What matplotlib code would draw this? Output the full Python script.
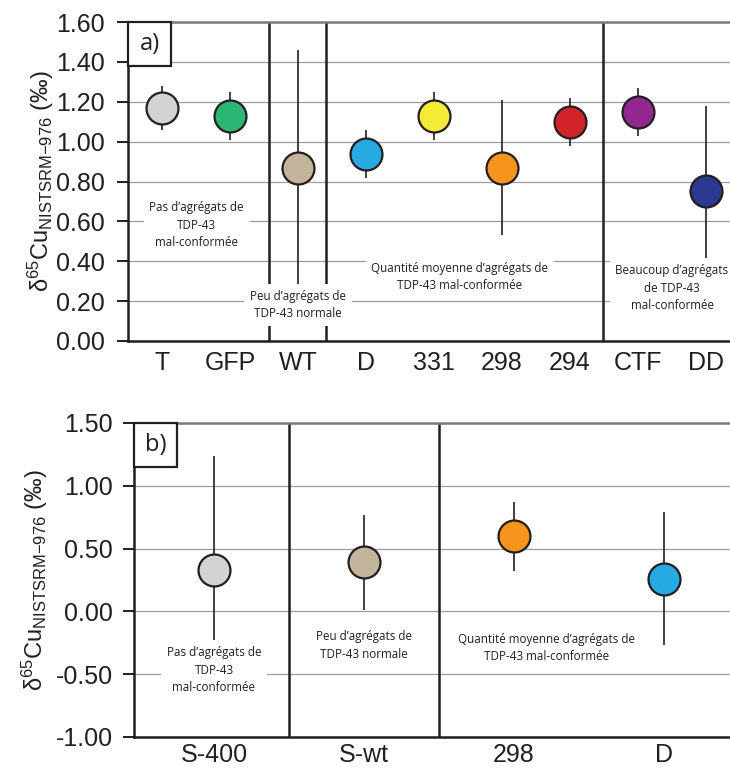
import matplotlib
matplotlib.use("Agg")
import matplotlib.pyplot as plt
from matplotlib.patches import Rectangle

plt.rcParams['font.family'] = ['Liberation Sans', 'DejaVu Sans']
plt.rcParams['mathtext.fontset'] = 'custom'
plt.rcParams['mathtext.rm'] = 'Liberation Sans'
plt.rcParams['mathtext.it'] = 'Liberation Sans:italic'
plt.rcParams['mathtext.bf'] = 'Liberation Sans:bold'

# ---- Panel a data ----
cats_a = ["T", "GFP", "WT", "D", "331", "298", "294", "CTF", "DD"]
vals_a = [1.17, 1.13, 0.87, 0.94, 1.13, 0.87, 1.10, 1.15, 0.75]
errs_a = [0.11, 0.12, 0.59, 0.12, 0.12, 0.34, 0.12, 0.12, 0.43]
cols_a = ["#d1d3d4", "#2bb673", "#c2b59b", "#27aae1", "#f4eb37",
          "#f7941d", "#d2232a", "#92278f", "#2b3990"]
seps_a = [1.57, 2.41, 6.49]
yticks_a = [0.0, 0.2, 0.4, 0.6, 0.8, 1.0, 1.2, 1.4, 1.6]

# ---- Panel b data ----
cats_b = ["S-400", "S-wt", "298", "D"]
vals_b = [0.33, 0.39, 0.60, 0.26]
errs_b = [0.91, 0.38, 0.275, 0.53]
cols_b = ["#d1d3d4", "#c2b59b", "#f7941d", "#27aae1"]
seps_b = [0.5, 1.5]
yticks_b = [-1.0, -0.5, 0.0, 0.5, 1.0, 1.5]

# group annotations: (x, y, text)
notes_a = [
    (0.51, 0.58, "Pas d’agrégats de\nTDP-43\nmal-conformée"),
    (2.0, 0.18, "Peu d’agrégats de\nTDP-43 normale"),
    (4.38, 0.32, "Quantité moyenne d’agrégats de\nTDP-43 mal-conformée"),
    (7.5, 0.265, "Beaucoup d’agrégats\nde TDP-43\nmal-conformée"),
]
notes_b = [
    (0.0, -0.467, "Pas d’agrégats de\nTDP-43\nmal-conformée"),
    (1.0, -0.27, "Peu d’agrégats de\nTDP-43 normale"),
    (2.22, -0.29, "Quantité moyenne d’agrégats de\nTDP-43 mal-conformée"),
]

W, H = 730, 769
fig = plt.figure(figsize=(W / 100, H / 100), dpi=100)

DARK = "#231f20"
ylabel = r'δ$^{65}$Cu$_{\mathrm{NISTSRM{-}976}}$ (‰)'


def make_panel(rect_px, xlim, cats, vals, errs, cols, seps, yticks, ylim,
               notes, tag, fmt, ypad, lpad, xpad):
    l, t, r, b = rect_px
    ax = fig.add_axes([l / W, 1 - b / H, (r - l) / W, (b - t) / H])
    x = list(range(len(cats)))
    ax.set_xlim(*xlim)
    ax.set_ylim(*ylim)
    ax.set_axisbelow(True)
    ax.yaxis.grid(True, color="#9d9d9d", lw=0.9)
    for s in seps:
        ax.axvline(s, color=DARK, lw=1.8, zorder=1)
    ax.errorbar(x, vals, yerr=errs, fmt="none", ecolor=DARK, elinewidth=1.2,
                capsize=0, zorder=2)
    for xi, v, c in zip(x, vals, cols):
        ax.plot(xi, v, "o", ms=23, mfc=c, mec=DARK, mew=1.6, zorder=4)
    for nx, ny, txt in notes:
        ax.text(nx, ny, txt, ha="center", va="center", fontsize=8.4,
                family=["Open Sans", "DejaVu Sans"], color=DARK,
                linespacing=1.45, zorder=3,
                bbox=dict(boxstyle="square,pad=0.5", fc="white", ec="none"))
    ax.set_xticks(x)
    ax.set_xticklabels(cats, fontsize=18)
    ax.set_yticks(yticks)
    ax.set_yticklabels([fmt(v) for v in yticks], fontsize=18)
    ax.tick_params(axis="x", length=0, pad=xpad, colors=DARK)
    ax.tick_params(axis="y", length=8, width=1.4, color=DARK, labelcolor=DARK,
                   pad=ypad)
    ax.spines["right"].set_visible(False)
    ax.spines["top"].set_color("#7a7a7a")
    ax.spines["top"].set_linewidth(1.8)
    ax.spines["left"].set_color(DARK)
    ax.spines["left"].set_linewidth(1.8)
    ax.spines["bottom"].set_color(DARK)
    ax.spines["bottom"].set_linewidth(1.8)
    ax.set_ylabel(ylabel, fontsize=17, color=DARK, labelpad=lpad)
    # panel tag box
    bw, bh = 43 / (r - l), 44 / (b - t)
    ax.add_patch(Rectangle((0, 1 - bh), bw, bh, transform=ax.transAxes,
                           fc="white", ec=DARK, lw=1.6, zorder=5, clip_on=False))
    ax.text(bw / 2, 1 - bh / 2, tag, transform=ax.transAxes, ha="center",
            va="center", fontsize=17, family=["Open Sans", "DejaVu Sans"],
            color=DARK, zorder=6)
    return ax


make_panel((128, 22, 730, 341), (-0.5, (730 - 162) / 68), cats_a, vals_a,
           errs_a, cols_a, seps_a, yticks_a, (0.0, 1.6), notes_a, "a)",
           lambda v: f"{v:.2f}", 9, 0, 7)
make_panel((134, 423, 730, 737), (-0.533, (730 - 214) / 150), cats_b, vals_b,
           errs_b, cols_b, seps_b, yticks_b, (-1.0, 1.5), notes_b, "b)",
           lambda v: f"{v:.2f}", 7, 4, 4)

fig.savefig("out.png", dpi=100)
